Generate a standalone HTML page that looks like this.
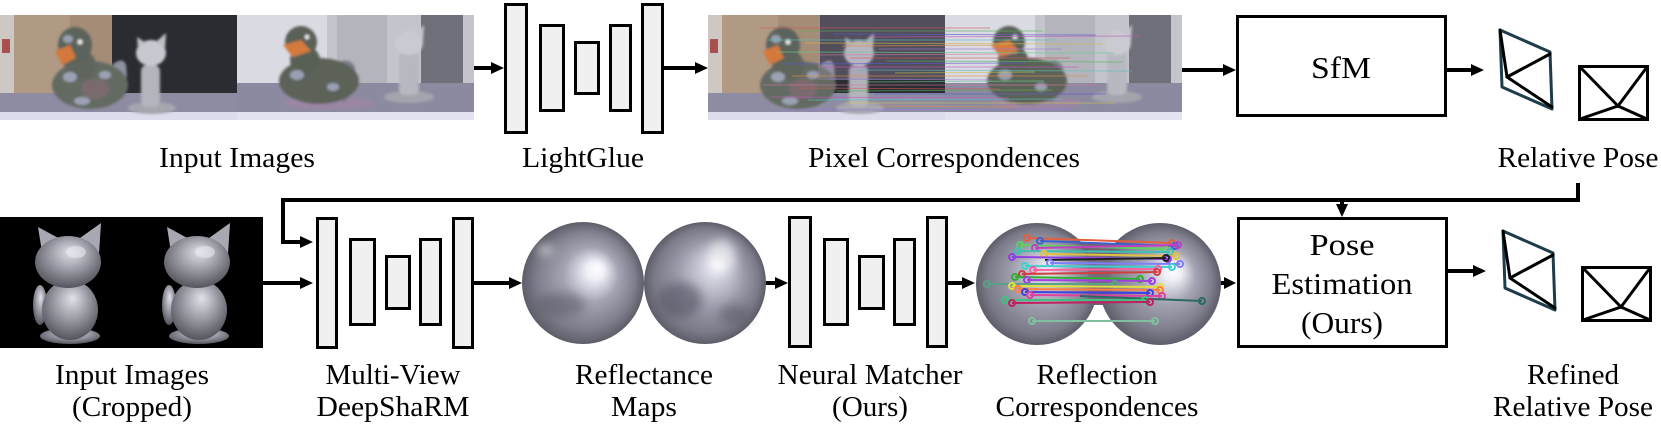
<!DOCTYPE html>
<html><head><meta charset="utf-8">
<style>
html,body{margin:0;padding:0;background:#fff;width:1661px;height:427px;overflow:hidden;}
svg{display:block;}
text{font-family:"Liberation Serif","Times New Roman",serif;fill:#000;}
</style></head><body>
<svg width="1661" height="427" viewBox="0 0 1661 427" xmlns="http://www.w3.org/2000/svg">
<defs>
 <filter id="bl" x="-10%" y="-10%" width="120%" height="120%"><feGaussianBlur stdDeviation="1.3"/></filter>
 <filter id="bl4" x="-50%" y="-50%" width="200%" height="200%"><feGaussianBlur stdDeviation="5"/></filter>
 <radialGradient id="sph1" cx="0.5" cy="0.5" r="0.5" fx="0.62" fy="0.38">
  <stop offset="0" stop-color="#ffffff"/>
  <stop offset="0.15" stop-color="#eeeef6"/>
  <stop offset="0.45" stop-color="#a4a4b4"/>
  <stop offset="0.8" stop-color="#7e7e8c"/>
  <stop offset="1" stop-color="#5e5e6a"/>
 </radialGradient>
 <radialGradient id="sph2" cx="0.5" cy="0.5" r="0.5" fx="0.6" fy="0.35">
  <stop offset="0" stop-color="#f4f4fa"/>
  <stop offset="0.2" stop-color="#d0d0dc"/>
  <stop offset="0.55" stop-color="#9a9aaa"/>
  <stop offset="0.85" stop-color="#7a7a88"/>
  <stop offset="1" stop-color="#5e5e6a"/>
 </radialGradient>
 <radialGradient id="catg" cx="0.5" cy="0.4" r="0.6" fx="0.55" fy="0.3">
  <stop offset="0" stop-color="#e2e2ea"/>
  <stop offset="0.5" stop-color="#9c9ca6"/>
  <stop offset="1" stop-color="#55555e"/>
 </radialGradient>
 <clipPath id="cP"><rect x="0" y="0" width="237" height="105"/></clipPath>
 <g id="photoL">
  <g clip-path="url(#cP)">
   <rect width="237" height="105" fill="#2b2b32"/>
   <rect width="112" height="80" fill="#b09a84"/>
   <rect x="70" width="42" height="80" fill="#a48c76"/>
   <rect width="14" height="80" fill="#cdc8c4"/>
   <rect x="2" y="24" width="8" height="14" fill="#a85050"/>
   <rect y="78" width="237" height="21" fill="#8e8ca2"/>
   <rect y="97" width="237" height="8" fill="#dcdcec"/>
   <g filter="url(#bl)">
    <path d="M104 58 Q122 38 126 50 Q130 78 112 92 Z" fill="#8e92a0"/>
    <ellipse cx="90" cy="70" rx="38" ry="24" fill="#646a62"/>
    <ellipse cx="80" cy="50" rx="16" ry="15" fill="#5e655d"/>
    <ellipse cx="75" cy="30" rx="17" ry="18" fill="#5c635c"/>
    <ellipse cx="95" cy="74" rx="14" ry="10" fill="#7a6a6e"/>
    <ellipse cx="70" cy="62" rx="7" ry="5" fill="#9ca2b4"/>
    <ellipse cx="105" cy="60" rx="6" ry="4" fill="#9ca2b4"/>
    <ellipse cx="82" cy="86" rx="8" ry="4" fill="#9ca2b4"/>
    <ellipse cx="68" cy="24" rx="5" ry="4" fill="#9aa0b0"/>
    <path d="M55 36 L70 30 L76 43 L62 50 Z" fill="#d4783a"/>
    <circle cx="80" cy="27" r="2.5" fill="#eee"/>
    <ellipse cx="152" cy="93" rx="24" ry="6" fill="#a6a6b0"/>
    <rect x="141" y="50" width="19" height="42" rx="6" fill="#b4b4bc"/>
    <ellipse cx="151" cy="38" rx="15" ry="13" fill="#c8c8d0"/>
    <path d="M138 34 L137 22 L146 28 Z M156 27 L166 18 L165 34 Z" fill="#c0c0c8"/>
   </g>
  </g>
 </g>
 <g id="photoR">
  <g clip-path="url(#cP)">
   <rect width="237" height="105" fill="#c4c4cc"/>
   <rect width="90" height="70" fill="#dadae2"/>
   <rect x="100" y="0" width="50" height="68" fill="#b4b4bc"/>
   <rect x="184" width="42" height="68" fill="#70707a"/>
   <rect y="68" width="237" height="29" fill="#8c8aa0"/>
   <rect y="97" width="237" height="8" fill="#e2e2f0"/>
   <g filter="url(#bl)">
    <ellipse cx="92" cy="88" rx="45" ry="6" fill="#9c86a4"/>
    <path d="M96 50 Q112 40 118 52 Q120 78 106 88 Z" fill="#7a7e88"/>
    <ellipse cx="82" cy="66" rx="40" ry="23" fill="#5c6258"/>
    <ellipse cx="68" cy="45" rx="15" ry="14" fill="#596057"/>
    <ellipse cx="64" cy="27" rx="16" ry="16" fill="#596058"/>
    <ellipse cx="60" cy="60" rx="7" ry="5" fill="#9aa0b2"/>
    <ellipse cx="96" cy="72" rx="6" ry="4" fill="#9aa0b2"/>
    <path d="M46 30 L64 25 L74 36 L56 42 Z" fill="#d47a3c"/>
    <circle cx="70" cy="22" r="2.3" fill="#eee"/>
    <ellipse cx="172" cy="82" rx="25" ry="6" fill="#a4a4ae"/>
    <rect x="162" y="36" width="20" height="44" rx="6" fill="#b8b8c0"/>
    <ellipse cx="172" cy="28" rx="14" ry="12" fill="#cacad2"/>
    <path d="M160 24 L158 13 L167 19 Z M178 18 L187 10 L186 26 Z" fill="#c4c4cc"/>
   </g>
  </g>
 </g>
 <g id="cat">
  <ellipse cx="40" cy="305" rx="7" ry="20" fill="url(#catg)"/>
  <ellipse cx="70" cy="336" rx="30" ry="8" fill="url(#catg)"/>
  <ellipse cx="70" cy="310" rx="28" ry="30" fill="url(#catg)"/>
  <path d="M42 252 L38 227 L62 240 Z M80 238 L101 223 L99 254 Z" fill="#a8a8b2"/>
  <ellipse cx="68" cy="262" rx="33" ry="26" fill="url(#catg)"/>
  <ellipse cx="76" cy="252" rx="10" ry="6" fill="#e8e8f0" opacity="0.6"/>
 </g>
</defs>

<!-- ===== TOP ROW ===== -->
<use href="#photoL" x="0" y="15"/>
<use href="#photoR" x="237" y="15"/>

<g stroke="#000" stroke-width="4" fill="none">
 <line x1="474" y1="68" x2="494" y2="68"/>
 <line x1="663" y1="68" x2="698" y2="68"/>
 <line x1="1182" y1="70" x2="1226" y2="70"/>
 <line x1="1447" y1="70" x2="1473" y2="70"/>
</g>
<g fill="#000">
 <polygon points="504,68 491,62 491,74"/>
 <polygon points="708,68 695,62 695,74"/>
 <polygon points="1236,70 1223,64 1223,76"/>
 <polygon points="1484,70 1471,64 1471,76"/>
</g>

<!-- LightGlue -->
<g stroke="#000" stroke-width="3" fill="#f0f0f0">
 <rect x="505.5" y="4.5" width="21" height="128"/>
 <rect x="540.5" y="25.5" width="23" height="85"/>
 <rect x="575.5" y="42.5" width="23" height="51"/>
 <rect x="610.5" y="25.5" width="20" height="85"/>
 <rect x="642.5" y="4.5" width="20" height="128"/>
</g>

<!-- Pixel correspondences -->
<use href="#photoL" x="708" y="15"/>
<use href="#photoR" x="945" y="15"/>
<rect x="818" y="15" width="127" height="65" fill="#9a90a8" opacity="0.35"/>
<g stroke-width="1" opacity="0.6">
 <line x1="760" y1="28" x2="990" y2="28" stroke="#d05a5a"/>
 <line x1="797" y1="31" x2="1043" y2="31" stroke="#5ab05a"/>
 <line x1="834" y1="34" x2="1096" y2="35" stroke="#5a5ad0"/>
 <line x1="871" y1="37" x2="1139" y2="36" stroke="#c05ac0"/>
 <line x1="768" y1="40" x2="1052" y2="40" stroke="#5ac0c0"/>
 <line x1="805" y1="43" x2="1105" y2="44" stroke="#c8c050"/>
 <line x1="842" y1="46" x2="1008" y2="45" stroke="#e0904a"/>
 <line x1="879" y1="49" x2="1061" y2="49" stroke="#9a7ad8"/>
 <line x1="776" y1="52" x2="1114" y2="53" stroke="#6ad08a"/>
 <line x1="813" y1="55" x2="1017" y2="54" stroke="#d07aa0"/>
 <line x1="850" y1="58" x2="1070" y2="58" stroke="#d05a5a"/>
 <line x1="887" y1="61" x2="1123" y2="62" stroke="#5ab05a"/>
 <line x1="784" y1="64" x2="1026" y2="63" stroke="#5a5ad0"/>
 <line x1="821" y1="67" x2="1079" y2="67" stroke="#c05ac0"/>
 <line x1="858" y1="70" x2="1132" y2="71" stroke="#5ac0c0"/>
 <line x1="895" y1="73" x2="1035" y2="72" stroke="#c8c050"/>
 <line x1="792" y1="76" x2="1088" y2="76" stroke="#e0904a"/>
 <line x1="829" y1="79" x2="991" y2="80" stroke="#9a7ad8"/>
 <line x1="866" y1="82" x2="1044" y2="81" stroke="#6ad08a"/>
 <line x1="763" y1="85" x2="1097" y2="85" stroke="#d07aa0"/>
 <line x1="800" y1="88" x2="1000" y2="89" stroke="#d05a5a"/>
 <line x1="837" y1="91" x2="1053" y2="90" stroke="#5ab05a"/>
 <line x1="874" y1="94" x2="1106" y2="94" stroke="#5a5ad0"/>
 <line x1="771" y1="97" x2="1009" y2="98" stroke="#c05ac0"/>
 <line x1="808" y1="100" x2="1062" y2="99" stroke="#5ac0c0"/>
 <line x1="845" y1="103" x2="1115" y2="103" stroke="#c8c050"/>
 <line x1="882" y1="106" x2="1018" y2="107" stroke="#e0904a"/>
 <line x1="779" y1="110" x2="1071" y2="109" stroke="#9a7ad8"/>
</g>

<!-- SfM box -->
<rect x="1237.5" y="16.5" width="208" height="99" fill="#fff" stroke="#000" stroke-width="3"/>
<text x="1341" y="78" font-size="31" text-anchor="middle" font-family="'Liberation Serif', 'Times New Roman', serif" textLength="60" lengthAdjust="spacingAndGlyphs">SfM</text>

<!-- top pose icons -->
<polygon points="1500,30 1550,52 1552,109 1502,87" fill="none" stroke="#1e3c4c" stroke-width="3" stroke-linejoin="round"/>
<g stroke="#000" stroke-width="3" fill="none" stroke-linecap="round">
 <line x1="1500" y1="30" x2="1507" y2="77"/>
 <line x1="1507" y1="77" x2="1550" y2="54"/>
 <line x1="1507" y1="77" x2="1552" y2="107"/>
 <rect x="1579.5" y="66.5" width="68" height="53"/>
 <polyline points="1580,67 1618,106 1647,67"/>
 <polyline points="1580,119 1618,106 1647,119"/>
</g>

<!-- top labels -->
<g font-size="28" text-anchor="middle" font-family="'Liberation Serif', 'Times New Roman', serif">
 <text x="237" y="167" textLength="156" lengthAdjust="spacingAndGlyphs">Input Images</text>
 <text x="583" y="167" textLength="122" lengthAdjust="spacingAndGlyphs">LightGlue</text>
 <text x="944" y="167" textLength="272" lengthAdjust="spacingAndGlyphs">Pixel Correspondences</text>
 <text x="1578" y="167" textLength="161" lengthAdjust="spacingAndGlyphs">Relative Pose</text>
</g>

<!-- feedback connector -->
<polyline points="1578,183 1578,200 283,200 283,242 303,242" fill="none" stroke="#000" stroke-width="4"/>
<polygon points="313,242 300,236 300,248" fill="#000"/>
<line x1="1342" y1="200" x2="1342" y2="207" stroke="#000" stroke-width="4"/>
<polygon points="1342,217 1336,204 1348,204" fill="#000"/>

<!-- ===== BOTTOM ROW ===== -->
<rect x="0" y="217" width="263" height="131" fill="#000"/>
<use href="#cat"/>
<use href="#cat" x="129"/>

<g stroke="#000" stroke-width="4" fill="none">
 <line x1="263" y1="283" x2="303" y2="283"/>
 <line x1="474" y1="283" x2="512" y2="283"/>
 <line x1="765" y1="283" x2="778" y2="283"/>
 <line x1="948" y1="283" x2="965" y2="283"/>
 <line x1="1220" y1="283" x2="1226" y2="283"/>
 <line x1="1448" y1="271" x2="1476" y2="271"/>
</g>
<g fill="#000">
 <polygon points="313,283 300,277 300,289"/>
 <polygon points="522,283 509,277 509,289"/>
 <polygon points="788,283 775,277 775,289"/>
 <polygon points="975,283 962,277 962,289"/>
 <polygon points="1236,283 1224,277 1224,289"/>
 <polygon points="1486,271 1473,265 1473,277"/>
</g>

<!-- DeepShaRM -->
<g stroke="#000" stroke-width="3" fill="#f0f0f0">
 <rect x="317.5" y="218.5" width="19" height="129"/>
 <rect x="350.5" y="239.5" width="24" height="85"/>
 <rect x="386.5" y="256.5" width="23" height="52"/>
 <rect x="420.5" y="239.5" width="20" height="85"/>
 <rect x="453.5" y="218.5" width="19" height="129"/>
</g>

<!-- Reflectance maps -->
<circle cx="583" cy="283" r="61" fill="url(#sph1)"/>
<circle cx="705" cy="283" r="61" fill="url(#sph2)"/>
<g filter="url(#bl4)" opacity="0.55">
 <ellipse cx="560" cy="305" rx="25" ry="12" fill="#5a5a68"/>
 <ellipse cx="680" cy="300" rx="22" ry="18" fill="#50505e"/>
 <ellipse cx="735" cy="315" rx="16" ry="10" fill="#5a5a68"/>
 <ellipse cx="545" cy="250" rx="8" ry="5" fill="#fff"/>
 <ellipse cx="722" cy="255" rx="14" ry="16" fill="#fff"/>
</g>

<!-- Neural matcher -->
<g stroke="#000" stroke-width="3" fill="#f0f0f0">
 <rect x="789.5" y="217.5" width="21" height="129"/>
 <rect x="824.5" y="239.5" width="23" height="85"/>
 <rect x="859.5" y="256.5" width="24" height="52"/>
 <rect x="894.5" y="239.5" width="20" height="85"/>
 <rect x="927.5" y="217.5" width="19" height="129"/>
</g>

<!-- Reflection correspondences -->
<rect x="1080" y="243" width="38" height="62" fill="#6e6474"/>
<circle cx="1037" cy="284" r="61" fill="url(#sph2)"/>
<circle cx="1160" cy="284" r="61" fill="url(#sph1)"/>
<rect x="1088" y="250" width="22" height="50" fill="#7a6a80" opacity="0.8"/>
<g stroke-width="2" fill="none">
 <g stroke="#e06040"><line x1="1027" y1="238" x2="1172" y2="243"/><circle cx="1027" cy="238" r="3"/><circle cx="1172" cy="243" r="3"/></g>
 <g stroke="#4060d0"><line x1="1040" y1="241" x2="1175" y2="246"/><circle cx="1040" cy="241" r="3"/><circle cx="1175" cy="246" r="3"/></g>
 <g stroke="#60d060"><line x1="1020" y1="245" x2="1165" y2="249"/><circle cx="1020" cy="245" r="3"/><circle cx="1165" cy="249" r="3"/></g>
 <g stroke="#c040c0"><line x1="1035" y1="248" x2="1178" y2="245"/><circle cx="1035" cy="248" r="3"/><circle cx="1178" cy="245" r="3"/></g>
 <g stroke="#40c0b0"><line x1="1018" y1="251" x2="1170" y2="252"/><circle cx="1018" cy="251" r="3"/><circle cx="1170" cy="252" r="3"/></g>
 <g stroke="#e0c040"><line x1="1044" y1="254" x2="1176" y2="256"/><circle cx="1044" cy="254" r="3"/><circle cx="1176" cy="256" r="3"/></g>
 <g stroke="#9040e0"><line x1="1012" y1="257" x2="1168" y2="259"/><circle cx="1012" cy="257" r="3"/><circle cx="1168" cy="259" r="3"/></g>
 <g stroke="#222"><line x1="1045" y1="260" x2="1166" y2="258"/><circle cx="1166" cy="258" r="3"/></g>
 <g stroke="#8080ff"><line x1="1050" y1="263" x2="1180" y2="264"/><circle cx="1050" cy="263" r="3"/><circle cx="1180" cy="264" r="3"/></g>
 <g stroke="#40d0d0"><line x1="1025" y1="266" x2="1172" y2="267"/><circle cx="1025" cy="266" r="3"/><circle cx="1172" cy="267" r="3"/></g>
 <g stroke="#ff60a0"><line x1="1033" y1="270" x2="1158" y2="269"/><circle cx="1033" cy="270" r="3"/><circle cx="1158" cy="269" r="3"/></g>
 <g stroke="#d04040"><line x1="1022" y1="274" x2="1157" y2="272"/><circle cx="1022" cy="274" r="3"/><circle cx="1157" cy="272" r="3"/></g>
 <g stroke="#30b030"><line x1="1015" y1="277" x2="1140" y2="279"/><circle cx="1015" cy="277" r="3"/><circle cx="1140" cy="279" r="3"/></g>
 <g stroke="#a040e0"><line x1="1027" y1="280" x2="1152" y2="281"/><circle cx="1027" cy="280" r="3"/><circle cx="1152" cy="281" r="3"/></g>
 <g stroke="#5aa08a"><line x1="987" y1="284" x2="1115" y2="284"/><circle cx="987" cy="284" r="3"/><circle cx="1115" cy="284" r="3"/></g>
 <g stroke="#e0e040"><line x1="1012" y1="286" x2="1160" y2="287"/><circle cx="1012" cy="286" r="3"/><circle cx="1160" cy="287" r="3"/></g>
 <g stroke="#ff8040"><line x1="1018" y1="289" x2="1160" y2="290"/><circle cx="1018" cy="289" r="3"/><circle cx="1160" cy="290" r="3"/></g>
 <g stroke="#4040e0"><line x1="1025" y1="292" x2="1150" y2="293"/><circle cx="1025" cy="292" r="3"/><circle cx="1150" cy="293" r="3"/></g>
 <g stroke="#e040a0"><line x1="1030" y1="295" x2="1162" y2="296"/><circle cx="1030" cy="295" r="3"/><circle cx="1162" cy="296" r="3"/></g>
 <g stroke="#2a6a60"><line x1="1080" y1="296" x2="1202" y2="301"/><circle cx="1202" cy="301" r="3"/></g>
 <g stroke="#40c080"><line x1="1005" y1="300" x2="1145" y2="300"/><circle cx="1005" cy="300" r="3"/><circle cx="1145" cy="300" r="3"/></g>
 <g stroke="#c02060"><line x1="1012" y1="303" x2="1150" y2="302"/><circle cx="1012" cy="303" r="3"/><circle cx="1150" cy="302" r="3"/></g>
 <g stroke="#80c0a0"><line x1="1032" y1="321" x2="1155" y2="321"/><circle cx="1032" cy="321" r="3"/><circle cx="1155" cy="321" r="3"/></g>
</g>

<!-- Pose estimation box -->
<rect x="1238.5" y="218.5" width="208" height="128" fill="#fff" stroke="#000" stroke-width="3"/>
<g font-size="31" text-anchor="middle" font-family="'Liberation Serif', 'Times New Roman', serif">
 <text x="1342" y="255" textLength="65" lengthAdjust="spacingAndGlyphs">Pose</text>
 <text x="1342" y="294" textLength="141" lengthAdjust="spacingAndGlyphs">Estimation</text>
 <text x="1342" y="333" textLength="82" lengthAdjust="spacingAndGlyphs">(Ours)</text>
</g>

<!-- bottom pose icons -->
<polygon points="1503,231 1553,253 1555,310 1505,288" fill="none" stroke="#1e3c4c" stroke-width="3" stroke-linejoin="round"/>
<g stroke="#000" stroke-width="3" fill="none" stroke-linecap="round">
 <line x1="1503" y1="231" x2="1510" y2="278"/>
 <line x1="1510" y1="278" x2="1553" y2="255"/>
 <line x1="1510" y1="278" x2="1555" y2="308"/>
 <rect x="1582.5" y="267.5" width="68" height="53"/>
 <polyline points="1583,268 1621,307 1650,268"/>
 <polyline points="1583,320 1621,307 1650,320"/>
</g>

<!-- bottom labels -->
<g font-size="28" text-anchor="middle" font-family="'Liberation Serif', 'Times New Roman', serif">
 <text x="132" y="384" textLength="154" lengthAdjust="spacingAndGlyphs">Input Images</text>
 <text x="132" y="416" textLength="120" lengthAdjust="spacingAndGlyphs">(Cropped)</text>
 <text x="393" y="384" textLength="135" lengthAdjust="spacingAndGlyphs">Multi-View</text>
 <text x="393" y="416" textLength="153" lengthAdjust="spacingAndGlyphs">DeepShaRM</text>
 <text x="644" y="384" textLength="138" lengthAdjust="spacingAndGlyphs">Reflectance</text>
 <text x="644" y="416" textLength="66" lengthAdjust="spacingAndGlyphs">Maps</text>
 <text x="870" y="384" textLength="185" lengthAdjust="spacingAndGlyphs">Neural Matcher</text>
 <text x="870" y="416" textLength="76" lengthAdjust="spacingAndGlyphs">(Ours)</text>
 <text x="1097" y="384" textLength="121" lengthAdjust="spacingAndGlyphs">Reflection</text>
 <text x="1097" y="416" textLength="203" lengthAdjust="spacingAndGlyphs">Correspondences</text>
 <text x="1573" y="384" textLength="92" lengthAdjust="spacingAndGlyphs">Refined</text>
 <text x="1573" y="416" textLength="160" lengthAdjust="spacingAndGlyphs">Relative Pose</text>
</g>
</svg>
</body></html>
